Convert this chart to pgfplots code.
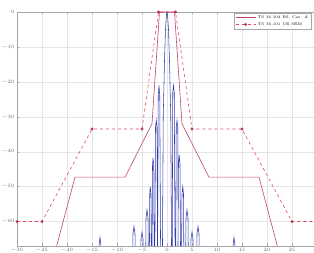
\documentclass[border=0pt]{standalone}
\usepackage{pgfplots}
\pgfplotsset{compat=1.18}
\definecolor{maskA}{RGB}{190,65,120}
\definecolor{maskB}{RGB}{230,70,100}
\definecolor{specC}{RGB}{50,60,170}
\begin{document}
\begin{tikzpicture}
\begin{axis}[
  scale only axis, width=300pt, height=234pt,
  xmin=-30, xmax=30, ymin=-67, ymax=0,
  xtick={-30,-25,...,25}, ytick={-60,-50,...,0},
  grid=major, major grid style={gray!20, line width=0.3pt},
  axis line style={gray!70, line width=0.4pt},
  tick style={gray!70, line width=0.3pt}, tick align=inside, major tick length=2.5pt,
  tick label style={font=\fontsize{4.5}{5}\selectfont, text=gray!80!black},
  xticklabel style={yshift=1pt}, yticklabel style={xshift=1pt},
  clip=true,
  legend style={at={(0.98,0.997)}, anchor=north east, font=\fontsize{3.8}{4.4}\selectfont,
    draw=gray!70, inner sep=0.8pt, row sep=-1.5pt, line width=0.3pt},
  legend cell align=left,
  legend image code/.code={\draw[mark repeat=2,mark phase=2,#1] plot coordinates {(0pt,0pt) (10pt,0pt) (20pt,0pt)};},
]
\coordinate (sw) at (rel axis cs:0,0);
\coordinate (ne) at (rel axis cs:1,1);
\addplot[maskA, line width=0.6pt] coordinates {
 (-23,-72) (-18.4,-47.3) (-8.4,-47.3) (-3,-32) (-1.5,0)
 (1.5,0) (3,-32) (8.4,-47.3) (18.4,-47.3) (23,-72)};
\addlegendentry{TS 36.104 BS, Cat. A}
\addplot[maskB, line width=0.6pt, dashed, mark=*, mark size=1.1pt, mark options={solid, fill=maskB!80!black, draw=maskB!80!black}] coordinates {
 (-30,-60) (-25,-60) (-15,-33.5) (-5,-33.5) (-1.7,0)
 (1.7,0) (5,-33.5) (15,-33.5) (25,-60) (30,-60)};
\addlegendentry{TS 36.101 UE SEM}
\addplot[specC, line width=0.55pt, forget plot] coordinates {
 (-15,-90)
 (-13.9,-90) (-13.6,-67) (-13.4,-64.5) (-13.2,-67) (-12.9,-90)
 (-7.1,-90) (-6.8,-63.5) (-6.6,-61.4) (-6.4,-63.5) (-6.1,-90)
 (-5.4,-90) (-5.2,-65) (-5.0,-63) (-4.8,-65) (-4.6,-90)
 (-4.4,-90) (-4.2,-59) (-4.0,-56.6) (-3.8,-59) (-3.6,-90)
 (-3.6,-90) (-3.45,-52) (-3.35,-50) (-3.2,-52) (-3.05,-90)
 (-3.05,-90) (-2.9,-44) (-2.8,-41.7) (-2.65,-44) (-2.5,-90)
 (-2.5,-90) (-2.3,-33) (-2.15,-31) (-2.0,-33) (-1.85,-90)
 (-1.95,-90) (-1.75,-24) (-1.6,-21) (-1.45,-24) (-1.2,-90)
 (-1.0,-90) (-0.75,-30) (-0.5,-14) (-0.3,-5) (-0.12,-1) (0,0) (0.12,-1) (0.3,-5) (0.5,-14) (0.75,-30) (1.0,-90)
 (1.0,-90) (1.15,-23) (1.3,-21) (1.45,-23) (1.7,-90)
 (1.7,-90) (1.85,-33) (2.0,-31) (2.15,-33) (2.3,-90)
 (2.1,-90) (2.3,-43.5) (2.45,-41) (2.6,-43.5) (2.8,-90)
 (2.8,-90) (3.0,-52) (3.15,-50) (3.3,-52) (3.45,-90)
 (3.6,-90) (3.8,-59) (4.0,-56.6) (4.2,-59) (4.4,-90)
 (4.6,-90) (4.8,-65) (5.0,-63) (5.2,-65) (5.4,-90)
 (5.8,-90) (6.0,-63.5) (6.2,-61.4) (6.4,-63.5) (6.7,-90)
 (12.9,-90) (13.2,-67) (13.4,-64.5) (13.6,-67) (13.9,-90)
 (15,-90)};
\end{axis}
\pgfresetboundingbox
\path[use as bounding box] ([xshift=-17pt,yshift=-7pt]sw) rectangle ([xshift=-3pt,yshift=12pt]ne);
\end{tikzpicture}
\end{document}
